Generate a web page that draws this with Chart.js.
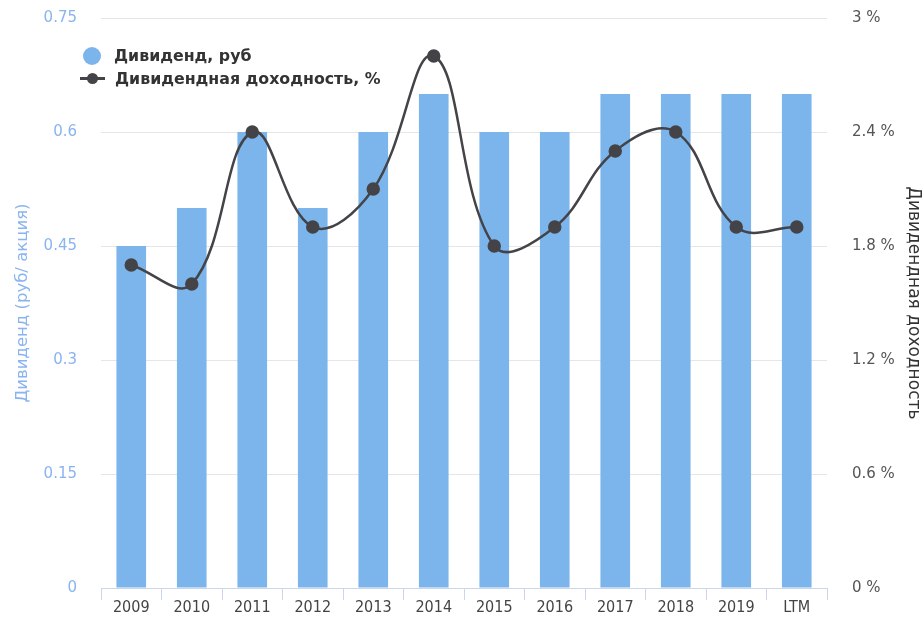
<!DOCTYPE html>
<html>
<head>
<meta charset="utf-8">
<script src="https://cdn.jsdelivr.net/npm/chart.js@4"></script>
<style>
  body { margin: 0; background: #fff; }
  #wrap { position: relative; width: 924px; height: 619px; }
  #legend { position: absolute; left: 80px; top: 44px; font: bold 15.8px "DejaVu Sans", sans-serif; color: #333; }
  #legend div { height: 23px; line-height: 23px; display: flex; align-items: center; }
  .dot { width: 18px; height: 18px; border-radius: 50%; background: #7cb5ec; margin: 0 13px 0 3px; }
  .ln { position: relative; width: 25px; height: 3px; background: #434348; margin-right: 10px; }
  .ln:after { content: ''; position: absolute; left: 7px; top: -4px; width: 11px; height: 11px; border-radius: 50%; background: #434348; }
</style>
</head>
<body>
<div id="wrap">
  <canvas id="chart" width="924" height="619"></canvas>
  <div id="legend">
    <div><span class="dot"></span>Дивиденд, руб</div>
    <div><span class="ln"></span>Дивидендная доходность, %</div>
  </div>
</div>
<script>
const years = ['2009', '2010', '2011', '2012', '2013', '2014', '2015', '2016', '2017', '2018', '2019', 'LTM'];
const dividend = [0.45, 0.5, 0.6, 0.5, 0.6, 0.65, 0.6, 0.6, 0.65, 0.65, 0.65, 0.65];
const yieldPct = [1.7, 1.6, 2.4, 1.9, 2.1, 2.8, 1.8, 1.9, 2.3, 2.4, 1.9, 1.9];
const leftTicks = [0, 0.15, 0.3, 0.45, 0.6, 0.75];
const rightTicks = [0, 0.6, 1.2, 1.8, 2.4, 3];

const tickFont = { family: 'DejaVu Sans', size: 15 }

new Chart(document.getElementById('chart'), {
    data: {
        labels: years,
        datasets: [
            {
                type: 'line',
                label: 'Дивидендная доходность, %',
                data: yieldPct,
                yAxisID: 'y2',
                borderColor: '#434348',
                backgroundColor: '#434348',
                borderWidth: 2.5,
                pointRadius: 5.5,
                pointHoverRadius: 5.5,
                tension: 0.4,
                order: 0
            },
            {
                type: 'bar',
                label: 'Дивиденд, руб',
                data: dividend,
                yAxisID: 'y',
                backgroundColor: '#7cb5ec',
                categoryPercentage: 1,
                barPercentage: 0.49,
                order: 1
            }
        ]
    },
    options: {
        responsive: false,
        animation: false,
        layout: { padding: { top: 18, bottom: 0, left: 0, right: 0 } },
        plugins: {
            legend: { display: false },
            tooltip: { enabled: false }
        },
        scales: {
            x: {
                offset: true,
                afterFit: (axis) => { axis.height = 31 },
                grid: {
                    offset: true,
                    drawOnChartArea: false,
                    color: '#ccd6eb',
                    tickLength: 12
                },
                border: { color: '#ccd6eb' },
                ticks: {
                    color: '#444',
                    font: { family: "'DejaVu Sans Condensed', sans-serif", size: 16 },
                    maxRotation: 0,
                    padding: -2
                }
            },
            y: {
                position: 'left',
                min: 0,
                max: 0.75,
                afterBuildTicks: (axis) => { axis.ticks = leftTicks.map(v => ({ value: v })) },
                afterFit: (axis) => { axis.width = 101 },
                grid: { color: '#e6e6e6', tickLength: 24, tickColor: 'rgba(0,0,0,0)' },
                border: { display: false },
                ticks: {
                    color: '#8ab4f0',
                    font: tickFont,
                    padding: 0,
                    callback: (v) => String(v)
                },
                title: {
                    display: true,
                    text: 'Дивиденд (руб/ акция)',
                    color: '#8ab4f0',
                    font: { family: 'DejaVu Sans', size: 16.5 },
                    padding: { top: 13, bottom: 0 }
                }
            },
            y2: {
                position: 'right',
                min: 0,
                max: 3,
                afterBuildTicks: (axis) => { axis.ticks = rightTicks.map(v => ({ value: v })) },
                afterFit: (axis) => { axis.width = 97 },
                grid: { drawOnChartArea: false, tickLength: 25, tickColor: 'rgba(0,0,0,0)' },
                border: { display: false },
                ticks: {
                    color: '#555',
                    font: tickFont,
                    padding: 0,
                    callback: (v) => v + ' %'
                },
                title: {
                    display: true,
                    text: 'Дивидендная доходность',
                    color: '#333',
                    font: { family: 'DejaVu Sans', size: 17 },
                    padding: 0
                }
            }
        }
    }
});
</script>
</body>
</html>
